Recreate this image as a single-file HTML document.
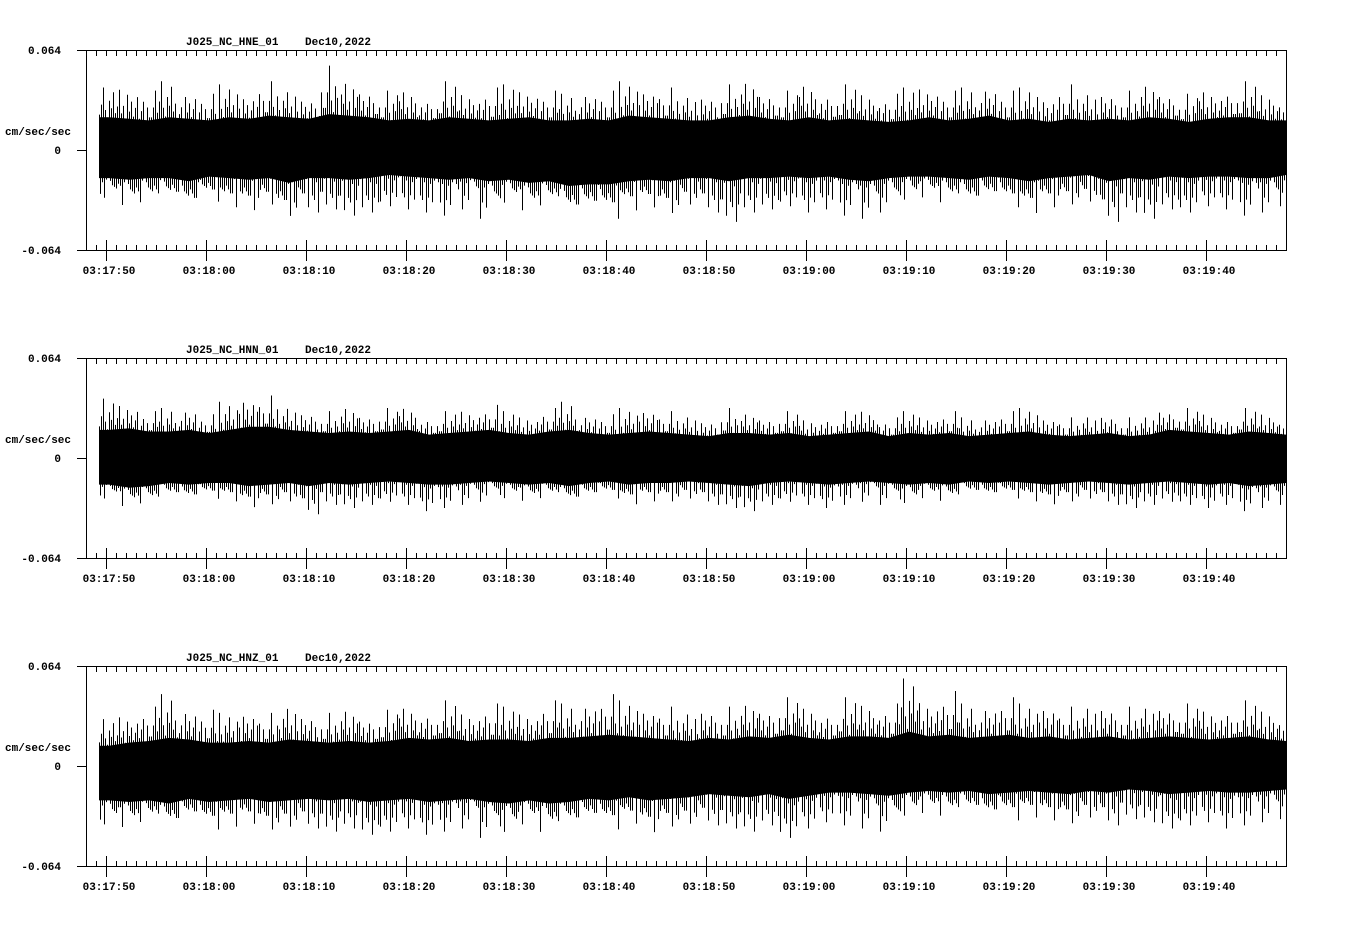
<!DOCTYPE html>
<html><head><meta charset="utf-8">
<style>
html,body{margin:0;padding:0;background:#fff;}
svg text{font-family:"Liberation Mono","DejaVu Sans Mono",monospace;font-weight:bold;font-size:11px;fill:#000;white-space:pre;}
</style></head>
<body>
<svg id="chart" width="1358" height="924" xmlns="http://www.w3.org/2000/svg"></svg>
<script>
// Values in milli cm/sec/sec, 2-second bins starting at 03:17:49.3
const channels = ["J025_NC_HNE_01","J025_NC_HNN_01","J025_NC_HNZ_01"];
const dateLabel = "Dec10,2022";
const tickLabels = ["03:17:50","03:18:00","03:18:10","03:18:20","03:18:30","03:18:40","03:18:50","03:19:00","03:19:10","03:19:20","03:19:30","03:19:40"];
const yTickLabels = ["0.064","0","-0.064"];
const peakHiE = [40,42,38,44,40,36,42,38,44,40,36,54,46,42,38,40,36,44,38,40,42,40,38,36,40,38,44,42,40,36,38,42,46,40,38,44,40,42,38,36,40,42,38,40,44,38,40,36,42,38,40,38,44,40,36,40,42,44,38,36];
const peakLoE = [-36,-42,-40,-38,-44,-36,-40,-42,-38,-46,-40,-38,-42,-40,-36,-38,-40,-42,-38,-44,-40,-46,-42,-50,-46,-48,-42,-40,-44,-38,-40,-46,-40,-38,-36,-40,-38,-42,-44,-40,-38,-36,-40,-42,-38,-40,-44,-40,-38,-36,-46,-40,-44,-38,-40,-36,-38,-42,-40,-36];
const coreHiE = [21,20,19,21,20,19,21,20,22,21,20,23,22,21,19,20,19,21,20,19,20,21,19,19,20,19,22,21,20,19,19,21,22,20,19,21,19,20,19,18,19,21,19,20,22,19,20,18,20,19,20,19,21,20,18,20,21,21,19,19];
const coreLoE = [-18,-19,-18,-18,-20,-17,-18,-19,-18,-21,-18,-18,-19,-18,-16,-17,-18,-19,-18,-20,-19,-21,-20,-23,-22,-22,-20,-19,-20,-18,-18,-20,-18,-18,-17,-18,-17,-19,-20,-18,-17,-17,-18,-19,-17,-18,-20,-18,-17,-16,-20,-18,-19,-17,-18,-17,-17,-18,-18,-16];
const peakHiN = [38,36,30,32,34,28,36,42,40,34,32,30,34,30,32,34,28,30,32,34,30,28,32,36,30,28,32,34,30,28,26,32,30,28,30,26,28,30,32,26,30,28,30,26,28,30,32,28,26,28,30,26,28,34,32,30,28,32,30,28];
const peakLoN = [-30,-36,-34,-30,-32,-28,-30,-34,-32,-30,-36,-30,-32,-30,-28,-30,-34,-32,-30,-28,-30,-32,-30,-34,-30,-28,-32,-30,-30,-28,-30,-32,-34,-30,-28,-30,-32,-30,-28,-30,-34,-30,-32,-28,-30,-28,-30,-32,-30,-28,-30,-32,-30,-28,-30,-32,-30,-34,-32,-30];
const coreHiN = [18,19,17,17,18,16,18,20,20,18,17,16,17,16,17,18,15,16,17,18,16,15,17,18,16,15,16,17,16,15,14,16,16,15,16,14,15,16,17,14,16,15,16,14,15,16,17,15,14,15,16,14,15,18,17,16,15,17,16,15];
const coreLoN = [-17,-19,-18,-16,-17,-16,-16,-18,-17,-16,-18,-16,-17,-16,-15,-16,-17,-17,-16,-15,-16,-17,-16,-18,-16,-15,-17,-16,-16,-15,-16,-17,-18,-16,-15,-16,-17,-16,-15,-16,-17,-16,-17,-15,-16,-15,-16,-17,-16,-15,-16,-17,-16,-15,-16,-17,-16,-18,-17,-16];
const peakHiZ = [30,34,38,46,40,36,34,38,34,40,36,34,38,34,36,40,38,42,36,40,38,36,42,40,44,46,42,40,38,36,40,38,42,40,44,40,38,44,42,40,56,44,48,40,42,44,40,42,38,40,42,38,40,42,40,38,40,42,38,36];
const peakLoZ = [-44,-46,-42,-46,-40,-44,-42,-40,-44,-42,-40,-42,-40,-44,-42,-40,-44,-42,-40,-46,-50,-44,-50,-46,-42,-44,-40,-46,-42,-40,-38,-40,-42,-38,-46,-40,-36,-38,-40,-42,-38,-36,-38,-36,-40,-38,-36,-38,-40,-36,-38,-34,-36,-40,-38,-36,-40,-38,-36,-34];
const coreHiZ = [13,15,16,18,17,15,15,16,15,17,16,15,16,15,16,18,17,18,16,17,17,16,18,18,19,20,19,18,17,16,18,17,19,18,20,18,17,19,19,18,22,19,20,18,19,20,18,19,17,18,19,17,18,19,18,17,18,19,17,16];
const coreLoZ = [-22,-23,-22,-24,-21,-23,-22,-21,-23,-22,-21,-22,-21,-23,-22,-21,-23,-22,-21,-23,-24,-22,-24,-23,-21,-22,-20,-22,-21,-20,-18,-19,-20,-18,-21,-19,-17,-17,-18,-19,-17,-16,-17,-16,-18,-17,-16,-17,-18,-16,-17,-15,-16,-18,-17,-16,-17,-17,-16,-15];
const seriesHi = [peakHiE, peakHiN, peakHiZ];
const seriesLo = [peakLoE, peakLoN, peakLoZ];
const coresHi = [coreHiE, coreHiN, coreHiZ];
const coresLo = [coreLoE, coreLoN, coreLoZ];

const NS = "http://www.w3.org/2000/svg";
const svg = document.getElementById("chart");
const X0 = 87, X1 = 1286, startOff = 0.7;
const jitter = [0.3,0.6,1,0.45,0.2,0.7,0.5,0.9,0.35,0.55,0.15,0.8,0.4,0.65,0.25,0.5,0.75,0.1,0.6,0.3];
function xT(sec){ return 106 + (sec - startOff) * 10; }
function mk(tag, attrs, parent){ const e=document.createElementNS(NS,tag); for(const k in attrs) e.setAttribute(k,attrs[k]); (parent||svg).appendChild(e); return e; }

channels.forEach((ch, i) => {
  const top = 50 + i*308, bot = top + 200, zero = top + 100;
  const yV = v => zero - v / 64 * 100;
  const g = mk("g", {});
  
  
  const hi = coresHi[i], lo = coresLo[i], ph = seriesHi[i], pl = seriesLo[i];
  let pts = [[99, yV(hi[0])]];
  hi.forEach((v,k)=>{ pts.push([Math.min(X1, xT(k*2+1)), yV(v)]); });
  pts.push([X1, yV(hi[hi.length-1])]); pts.push([X1, yV(lo[lo.length-1])]);
  for(let k=lo.length-1;k>=0;k--){ pts.push([Math.min(X1, xT(k*2+1)), yV(lo[k])]); }
  pts.push([99, yV(lo[0])]);
  const core = mk("polygon", {points: pts.map(p=>p.join(",")).join(" "), fill:"#000"}, g);
  
  
  ph.forEach((v,k)=>{
    for (let j=0;j<10;j++){
      const x = xT(k*2) + j*2 + 0.5;
      if (x < 99 || x > X1-1) continue;
      const f = jitter[(k*7+j)%20];
      const a = mk("line", {x1:x, x2:x, y1:zero, y2:yV(hi[k]*0.85 + (v-hi[k]*0.85)*f*(0.6+0.4*f)), stroke:"#000","stroke-width":1}, g);
      
      
      const f2 = jitter[(k*3+j*3+5)%20];
      const b = mk("line", {x1:x+1, x2:x+1, y1:zero, y2:yV(lo[k]*0.85 + (pl[k]-lo[k]*0.85)*f2*(0.6+0.4*f2)), stroke:"#000","stroke-width":1}, g);
      
      
    }
  });
  const fr = mk("rect", {x:X0-0.5, y:top+0.5, width:X1-X0+1, height:200, fill:"none", stroke:"#000","stroke-width":1}, g);
  
  
  [top, zero, bot].forEach((y, k) => {
    mk("line", {x1:77, x2:X0, y1:y+0.5, y2:y+0.5, stroke:"#000"}, g);
    const t = mk("text", {x:61, y:y+4, "text-anchor":"end"}, g);
    t.textContent = yTickLabels[k];
    
    
  });
  const yl = mk("text", {x:5, y:top+85}, g);
  yl.textContent = "cm/sec/sec";
  
  
  const tl = mk("text", {x:186, y:top-5}, g);
  tl.textContent = ch;
  
  
  const dl = mk("text", {x:305, y:top-5}, g);
  dl.textContent = dateLabel;
  
  
  for (let x = 96; x < X1; x += 10) {
    mk("line", {x1:x+0.5, x2:x+0.5, y1:top, y2:top+6, stroke:"#000"}, g);
    mk("line", {x1:x+0.5, x2:x+0.5, y1:bot-5, y2:bot, stroke:"#000"}, g);
  }
  tickLabels.forEach((lab, k) => {
    const x = 106 + k*100;
    mk("line", {x1:x+0.5, x2:x+0.5, y1:bot-10, y2:bot+11, stroke:"#000"}, g);
    const t = mk("text", {x:x+3, y:bot+24, "text-anchor":"middle"}, g);
    t.textContent = lab;
    
    
  });
});
</script>
</body></html>
